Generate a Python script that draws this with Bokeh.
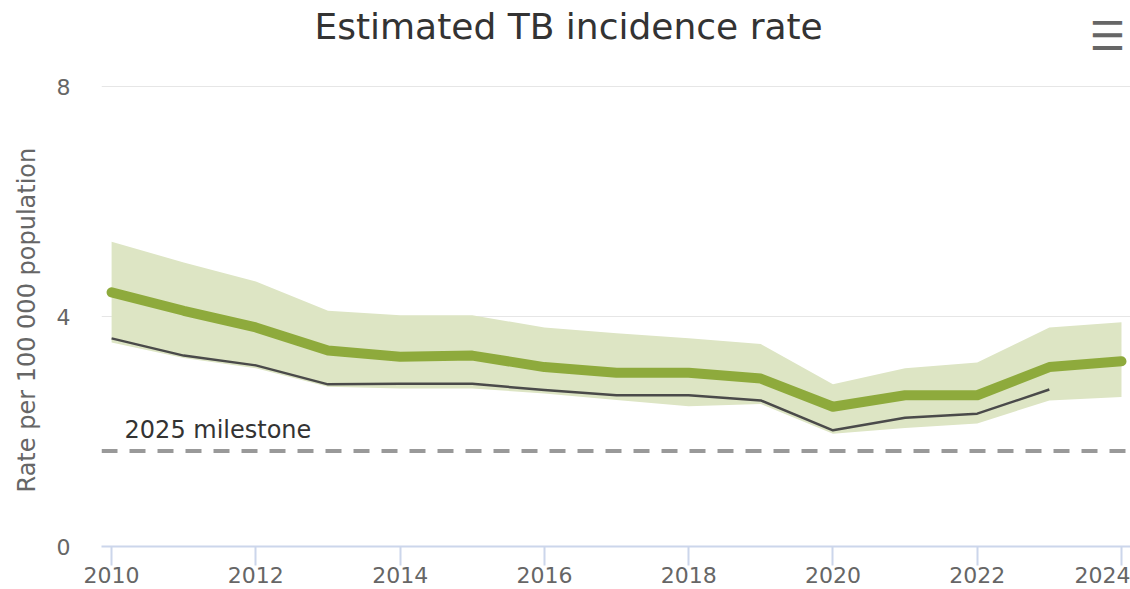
from bokeh.plotting import figure
from bokeh.models import Label, FixedTicker, Range1d, Title
from bokeh.embed import file_html
from bokeh.resources import INLINE

years = list(range(2010, 2025))
estimate = [4.42, 4.10, 3.81, 3.41, 3.30, 3.32, 3.12, 3.02, 3.02, 2.92, 2.43, 2.63, 2.63, 3.12, 3.22]
upper = [5.30, 4.94, 4.61, 4.10, 4.02, 4.02, 3.81, 3.71, 3.62, 3.52, 2.82, 3.10, 3.20, 3.81, 3.90]
lower = [3.55, 3.28, 3.10, 2.78, 2.75, 2.75, 2.66, 2.55, 2.44, 2.48, 1.96, 2.06, 2.14, 2.54, 2.60]
notif_years = list(range(2010, 2024))
notified = [3.62, 3.32, 3.15, 2.82, 2.83, 2.83, 2.72, 2.63, 2.63, 2.54, 2.02, 2.24, 2.31, 2.73]
milestone = 1.66
x_ticks = [2010, 2012, 2014, 2016, 2018, 2020, 2022, 2024]
y_ticks = [0, 4, 8]

FONT = "DejaVu Sans"
X0, X1 = 2009.86, 2024.125
Y_TOP = 9.496  # extra headroom above 8 holds the title and the menu icon

p = figure(width=1130, height=589, output_backend="svg", toolbar_location=None,
           x_range=Range1d(X0, X1), y_range=Range1d(0, Y_TOP),
           min_border_left=101, min_border_right=0, min_border_top=0, min_border_bottom=43)
p.outline_line_color = None
p.background_fill_color = "white"

# uncertainty band
p.varea(x=years, y1=lower, y2=upper, fill_color="#dde5c4", fill_alpha=1.0)
# milestone
p.line(x=[X0, X1], y=[milestone, milestone], line_color="#999999",
       line_width=4, line_dash="16 12")
# notified line
p.line(x=notif_years, y=notified, line_color="#4a4a4a", line_width=2.5, line_join="round")
# estimate line
p.line(x=years, y=estimate, line_color="#8eaa3c", line_width=10, line_join="round", line_cap="round")

# axes
p.xaxis.ticker = FixedTicker(ticks=x_ticks)
p.yaxis.ticker = FixedTicker(ticks=y_ticks)
p.xgrid.grid_line_color = None
p.ygrid.grid_line_color = "#e6e6e6"
p.ygrid.grid_line_width = 1

p.xaxis.axis_line_color = "#ccd6eb"
p.xaxis.axis_line_width = 2
p.xaxis.major_tick_line_color = "#ccd6eb"
p.xaxis.major_tick_line_width = 2
p.xaxis.major_tick_out = 19
p.xaxis.major_tick_in = 0
p.xaxis.minor_tick_line_color = None
p.xaxis.major_label_text_font = FONT
p.xaxis.major_label_text_font_size = "22px"
p.xaxis.major_label_text_color = "#666666"
p.xaxis.major_label_standoff = 1

p.yaxis.axis_line_color = None
p.yaxis.major_tick_line_color = None
p.yaxis.minor_tick_line_color = None
p.yaxis.major_tick_out = 0
p.yaxis.major_tick_in = 0
p.yaxis.major_label_text_font = FONT
p.yaxis.major_label_text_font_size = "22px"
p.yaxis.major_label_text_color = "#666666"
p.yaxis.major_label_standoff = 31

# y-axis title as a side title, placed along the 0..8 part of the axis
p.add_layout(Title(text="Rate per 100 000 population", align="left", offset=54,
                   standoff=22, vertical_align="top", text_font=FONT, text_font_size="24px",
                   text_font_style="normal", text_color="#666666"), "left")

# milestone label
p.add_layout(Label(x=2010.18, y=milestone, y_offset=7, text="2025 milestone",
                   text_font=FONT, text_font_size="24px", text_color="#333333",
                   text_baseline="bottom", text_align="left"))

# title
p.add_layout(Label(x=2016.335, y=9.04, text="Estimated TB incidence rate",
                   text_font=FONT, text_font_size="36px", text_color="#333333",
                   text_baseline="middle", text_align="center"))

# menu icon
p.add_layout(Label(x=2023.81, y=8.87, text="\u2630",
                   text_font=FONT, text_font_size="40px", text_color="#666666",
                   text_baseline="middle", text_align="center"))

open("out.html", "w").write(file_html(p, INLINE))
